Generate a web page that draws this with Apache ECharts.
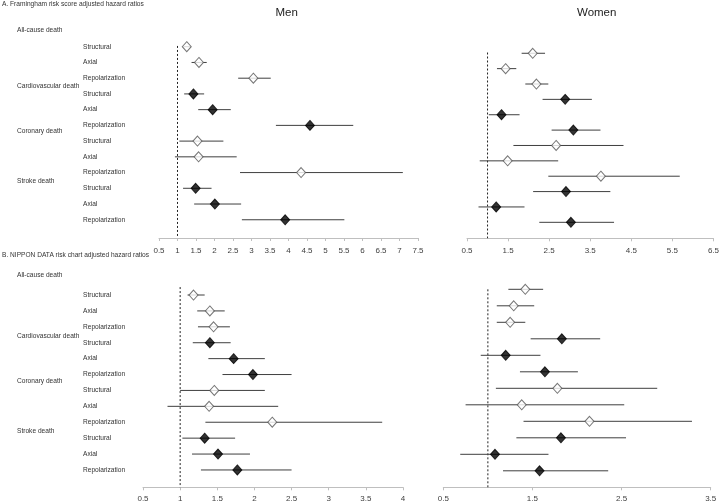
<!DOCTYPE html>
<html><head><meta charset="utf-8">
<script src="https://cdn.jsdelivr.net/npm/echarts@6/dist/echarts.min.js"></script>
<style>html,body{margin:0;padding:0;background:#fff}#c{width:722px;height:503px}</style>
</head><body><div id="c"></div>
<script>
const outcomes = ['All-cause death','Cardiovascular death','Coronary death','Stroke death'];
const subtypes = ['Structural','Axial','Repolarization'];
const filledOutcome = [false, true, false, true];
const REF = 1;

// A. Framingham risk score adjusted hazard ratios
const menA_hr = [1.25,1.58,3.05,1.43,1.95,4.58,1.54,1.57,4.34,1.49,2.01,3.91];
const menA_lo = [1.16,1.38,2.64,1.18,1.56,3.66,1.05,0.93,2.69,1.15,1.45,2.74];
const menA_hi = [1.36,1.79,3.52,1.72,2.44,5.75,2.24,2.60,7.09,1.92,2.72,5.51];
const womenA_hr = [2.10,1.44,2.19,2.89,1.34,3.09,2.67,1.49,3.76,2.91,1.21,3.03];
const womenA_lo = [1.83,1.23,1.92,2.34,1.03,2.56,1.63,0.81,2.48,2.11,0.78,2.26];
const womenA_hi = [2.40,1.70,2.48,3.54,1.78,3.75,4.31,2.72,5.68,3.99,1.90,4.08];
// B. NIPPON DATA risk chart adjusted hazard ratios
const menB_hr = [1.18,1.40,1.45,1.40,1.72,1.98,1.46,1.39,2.24,1.33,1.51,1.77];
const menB_lo = [1.10,1.23,1.24,1.17,1.38,1.57,1.00,0.83,1.34,1.03,1.16,1.28];
const menB_hi = [1.33,1.60,1.67,1.68,2.14,2.50,2.14,2.32,3.72,1.74,1.94,2.50];
const womenB_hr = [1.42,1.29,1.25,1.83,1.20,1.64,1.78,1.38,2.14,1.82,1.08,1.58];
const womenB_lo = [1.23,1.10,1.10,1.48,0.92,1.36,1.09,0.75,1.40,1.32,0.69,1.17];
const womenB_hi = [1.62,1.52,1.42,2.26,1.59,2.01,2.90,2.53,3.29,2.55,1.68,2.35];

const axisA_men = {min:0.5, max:7.5, interval:0.5};
const axisA_women = {min:0.5, max:6.5, interval:1};
const axisB_men = {min:0.5, max:4, interval:0.5};
const axisB_women = {min:0.5, max:3.5, interval:1};

const rowLabels = [];
outcomes.forEach(() => subtypes.forEach(s => rowLabels.push(s)));

const FONT = 'Liberation Sans, Arial, sans-serif';

const panels = [
  {grid:{left:159, right:304, top:31, bottom:265}, ymax:13.16, ax:axisA_men, hr:menA_hr, lo:menA_lo, hi:menA_hi, labels:true, labMargin:76, tickMargin:9, refTop:0.95},
  {grid:{left:467, right:6, top:37.9, bottom:264.7}, ymax:13.04, ax:axisA_women, hr:womenA_hr, lo:womenA_lo, hi:womenA_hi, labels:false, tickMargin:8, refTop:0.95},
  {grid:{left:143, right:319, top:279.1, bottom:15.7}, ymax:13.09, ax:axisB_men, hr:menB_hr, lo:menB_lo, hi:menB_hi, labels:true, labMargin:60, tickMargin:7, refTop:0.5},
  {grid:{left:443.3, right:11.3, top:272.8, bottom:15.7}, ymax:13.0, ax:axisB_women, hr:womenB_hr, lo:womenB_lo, hi:womenB_hi, labels:false, tickMargin:7, refTop:1.0}
];

const grids = [], xAxes = [], yAxes = [], series = [];
panels.forEach((p, k) => {
  grids.push(Object.assign({containLabel:false}, p.grid));
  xAxes.push({
    type:'value', gridIndex:k, min:p.ax.min, max:p.ax.max, interval:p.ax.interval,
    axisLine:{show:true, onZero:false, lineStyle:{color:'#bfbfbf', width:1}},
    axisTick:{show:true, length:3, lineStyle:{color:'#bfbfbf'}},
    splitLine:{show:false},
    axisLabel:{color:'#404040', fontSize:8, fontFamily:FONT, margin:p.tickMargin, showMinLabel:true, showMaxLabel:true}
  });
  yAxes.push({
    type:'value', gridIndex:k, min:0, max:p.ymax, interval:1, inverse:true,
    axisLine:{show:false}, axisTick:{show:false}, splitLine:{show:false},
    axisLabel:{show:p.labels, align:'left', margin:p.labMargin || 8, color:'#333', fontSize:6.6, fontFamily:FONT,
      formatter: v => (Number.isInteger(v) && v >= 1 && v <= rowLabels.length) ? rowLabels[v-1] : ''}
  });
  // reference dashed line at HR = 1
  series.push({
    type:'line', xAxisIndex:k, yAxisIndex:k, data:[[REF, p.refTop],[REF, p.ymax]],
    symbol:'none', silent:true, lineStyle:{color:'#222', width:1, type:[2,2]}, z:1
  });
  // confidence intervals
  series.push({
    type:'custom', xAxisIndex:k, yAxisIndex:k, silent:true, z:2,
    data: p.hr.map((_, i) => [p.lo[i], p.hi[i], i + 1]),
    encode:{x:[0,1], y:2},
    renderItem:(params, api) => {
      const a = api.coord([api.value(0), api.value(2)]);
      const b = api.coord([api.value(1), api.value(2)]);
      return {type:'line', shape:{x1:a[0], y1:a[1], x2:b[0], y2:b[1]}, style:{stroke:'#3f3f3f', lineWidth:1}};
    }
  });
  // point estimates
  series.push({
    type:'scatter', xAxisIndex:k, yAxisIndex:k, symbol:'diamond', symbolSize:[9,10], z:3, silent:true,
    data: p.hr.map((v, i) => {
      const filled = filledOutcome[Math.floor(i / subtypes.length)];
      return {value:[v, i + 1], itemStyle: filled
        ? {color:'#000', borderColor:'#000', borderWidth:1}
        : {color:'#fff', borderColor:'#555', borderWidth:1}};
    })
  });
});

const txt = (x, y, s, size, extra) => ({type:'text', left:x, top:y, silent:true,
  style:Object.assign({text:s, fontSize:size, fontFamily:FONT, fill:'#333', textVerticalAlign:'middle'}, extra||{})});

const groupYTop = [30, 86, 130.7, 180.7];
const groupYBottom = [274.7, 336, 381, 431];
const graphic = [
  {type:'text', x:2, y:4.5, silent:true, style:{text:'A. Framingham risk score adjusted hazard ratios', fontSize:6.6, fontFamily:FONT, fill:'#333', verticalAlign:'middle'}},
  {type:'text', x:2, y:254.7, silent:true, style:{text:'B. NIPPON DATA risk chart adjusted hazard ratios', fontSize:6.6, fontFamily:FONT, fill:'#333', verticalAlign:'middle'}},
  {type:'text', x:286.7, y:13.3, silent:true, style:{text:'Men', fontSize:11.5, fontFamily:FONT, fill:'#222', align:'center', verticalAlign:'middle'}},
  {type:'text', x:596.7, y:13.3, silent:true, style:{text:'Women', fontSize:11.5, fontFamily:FONT, fill:'#222', align:'center', verticalAlign:'middle'}}
];
outcomes.forEach((o, i) => {
  graphic.push({type:'text', x:17, y:groupYTop[i], silent:true, style:{text:o, fontSize:6.6, fontFamily:FONT, fill:'#333', verticalAlign:'middle'}});
  graphic.push({type:'text', x:17, y:groupYBottom[i], silent:true, style:{text:o, fontSize:6.6, fontFamily:FONT, fill:'#333', verticalAlign:'middle'}});
});

const chart = echarts.init(document.getElementById('c'), null, {renderer:'canvas'});
chart.setOption({
  animation:false, backgroundColor:'#fff',
  grid:grids, xAxis:xAxes, yAxis:yAxes, series:series, graphic:graphic
});
</script></body></html>
